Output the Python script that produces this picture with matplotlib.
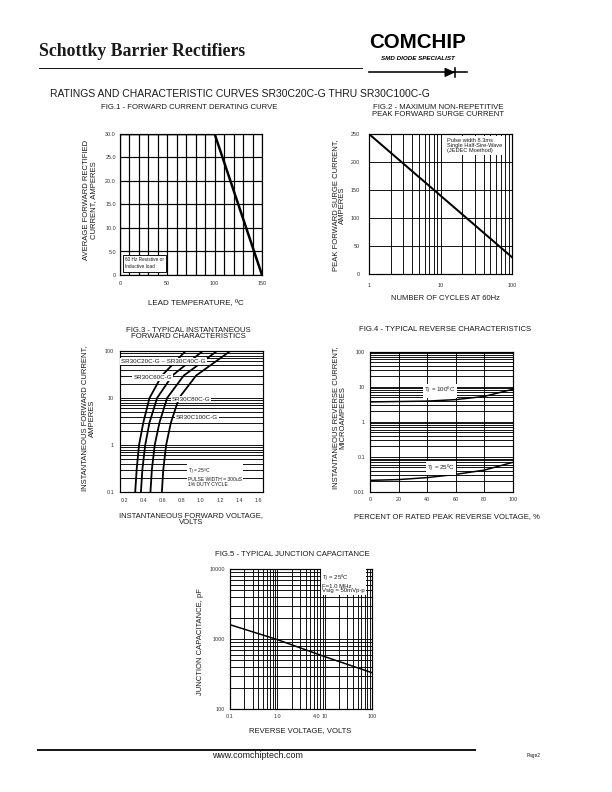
import numpy as np
import matplotlib
matplotlib.use("Agg")
import matplotlib.pyplot as plt
from matplotlib.lines import Line2D
from matplotlib.patches import Polygon
from matplotlib.ticker import FixedLocator, NullFormatter, LogLocator

plt.rcParams['font.family'] = ['Liberation Sans', 'DejaVu Sans']

# ---- data ----
# Fig.1 derating
f1_temp = [0, 100, 150]
f1_amps = [30, 30, 0]

# Fig.2 surge current
f2_cycles = [1, 10, 100]
f2_amps = [250, 140, 30]

# Fig.3 forward characteristics (current points shared by all curves)
f3_current = [0.1, 0.3, 1, 3, 10, 30, 100]
f3_v_20_40 = [0.31, 0.325, 0.35, 0.395, 0.46, 0.59, 0.84]
f3_v_60 = [0.37, 0.385, 0.415, 0.46, 0.54, 0.70, 1.02]
f3_v_80 = [0.47, 0.485, 0.515, 0.565, 0.645, 0.82, 1.17]
f3_v_100 = [0.59, 0.605, 0.635, 0.685, 0.77, 0.95, 1.31]

# Fig.4 reverse characteristics
f4_pct = [0, 20, 40, 60, 80, 100]
f4_ir_100c = [3.7, 3.8, 3.9, 4.3, 5.3, 8.5]
f4_ir_25c = [0.0215, 0.0226, 0.0257, 0.0318, 0.042, 0.07]

# Fig.5 junction capacitance
f5_volts = [0.1, 1, 10, 100]
f5_pf = [1600, 980, 560, 330]

W, H = 612, 792
fig = plt.figure(figsize=(W / 72, H / 72), dpi=72)
INK = '#1a1a1a'
TITLE = 7.8
LABEL = 7.6
TICK = 5.4


def fx(x):
    return x / W


def fy(y):
    return 1 - y / H


def px_axes(x0, y0, x1, y1):
    return fig.add_axes([fx(x0), fy(y1), (x1 - x0) / W, (y1 - y0) / H])


def ftext(x, y, s, **kw):
    kw.setdefault('color', INK)
    fig.text(fx(x), fy(y), s, **kw)


def style(ax, pad=5):
    for sp in ax.spines.values():
        sp.set_linewidth(1.2)
        sp.set_color('black')
    ax.tick_params(which='both', length=0, labelsize=TICK, pad=pad, labelcolor='#333333')
    ax.set_axisbelow(True)


GRID = dict(color='black', linewidth=0.9)

# ---- header ----
ftext(39, 56, "Schottky Barrier Rectifiers", family='Liberation Serif',
      weight='bold', size=17.7, va='baseline')
fig.add_artist(Line2D([fx(39), fx(362)], [fy(67.5)] * 2, lw=1, color=INK))
ftext(417, 48, "COMCHIP", ha='center', va='baseline', size=20.5, weight='bold', color='black')
ftext(417.5, 60, "SMD DIODE SPECIALIST", ha='center', va='baseline', size=6.3,
      weight='bold', style='italic', color='black')
fig.add_artist(Line2D([fx(369), fx(467)], [fy(72.3)] * 2, lw=1.6, color='black'))
fig.add_artist(Polygon([[fx(445), fy(68.3)], [fx(445), fy(76.5)], [fx(454), fy(72.3)]],
                       closed=True, color='black', transform=fig.transFigure))
fig.add_artist(Line2D([fx(454.5)] * 2, [fy(67.5), fy(77)], lw=1.6, color='black'))
ftext(240, 94, "RATINGS AND CHARACTERISTIC CURVES SR30C20C-G THRU SR30C100C-G",
      ha='center', va='center', size=10.4)

# ---- Fig.1 ----
ax1 = px_axes(120, 134, 262, 275)
ax1.plot(f1_temp, f1_amps, color='black', lw=2.5, zorder=3)
ax1.set_xlim(0, 150)
ax1.set_ylim(0, 30)
ax1.set_xticks([0, 50, 100, 150])
ax1.set_xticks(np.arange(0, 151, 10), minor=True)
ax1.set_yticks([0, 5, 10, 15, 20, 25, 30])
ax1.set_yticklabels(['0', '5.0', '10.0', '15.0', '20.0', '25.0', '30.0'])
ax1.grid(which='both', color='black', linewidth=1.2)
style(ax1, pad=4)
ax1.tick_params(axis='x', pad=6)
ax1.text(0.035, 0.04, "60 Hz Resistive or\nInductive load", transform=ax1.transAxes,
         fontsize=4.8, va='bottom', ha='left', color=INK, linespacing=1.5,
         bbox=dict(facecolor='white', edgecolor='black', lw=0.9, boxstyle='square,pad=0.5'))
ftext(189, 107.5, "FIG.1 - FORWARD CURRENT DERATING CURVE", ha='center', va='center', size=TITLE)
ftext(196, 304, "LEAD TEMPERATURE, ºC", ha='center', va='center', size=8)
ftext(90, 200, "AVERAGE FORWARD RECTIFIED\nCURRENT, AMPERES", ha='center', va='center',
      size=LABEL, rotation=90, linespacing=1.0)

# ---- Fig.2 ----
ax2 = px_axes(369, 134, 512, 274)
ax2.plot(f2_cycles, f2_amps, color='black', lw=2, zorder=3)
ax2.set_xscale('log')
ax2.set_xlim(1, 100)
ax2.set_ylim(0, 250)
ax2.set_xticks([1, 10, 100])
ax2.set_xticklabels(['1', '10', '100'])
ax2.xaxis.set_minor_locator(LogLocator(subs=np.arange(2, 10)))
ax2.xaxis.set_minor_formatter(NullFormatter())
ax2.set_yticks([0, 50, 100, 150, 200, 250])
ax2.grid(which='both', **GRID)
style(ax2, pad=9)
ax2.text(0.545, 0.97, "Pulse width 8.3ms\nSingle Half-Sire-Wave\n(JEDEC Moethod)",
         transform=ax2.transAxes, fontsize=5.6, va='top', ha='left', color=INK,
         linespacing=1.0,
         bbox=dict(facecolor='white', edgecolor='none', boxstyle='square,pad=0.35'))
ftext(438, 111, "FIG.2 - MAXIMUM NON-REPETITIVE\nPEAK FORWARD SURGE CURRENT",
      ha='center', va='center', size=TITLE, linespacing=0.9)
ftext(445, 298, "NUMBER OF CYCLES AT 60Hz", ha='center', va='center', size=LABEL)
ftext(339, 205, "PEAK FORWARD SURGE CURRENT,\nAMPERES", ha='center', va='center',
      size=LABEL, rotation=90, linespacing=1.0)

# ---- Fig.3 ----
ax3 = px_axes(120, 351, 262.7, 492)
for v in (f3_v_20_40, f3_v_60, f3_v_80, f3_v_100):
    ax3.plot(v, f3_current, color='black', lw=1.8, zorder=3)
ax3.set_yscale('log')
ax3.set_xlim(0.15, 1.65)
ax3.set_ylim(0.1, 100)
ax3.set_xticks([0.2, 0.4, 0.6, 0.8, 1.0, 1.2, 1.4, 1.6])
ax3.set_xticklabels(['0.2', '0.4', '0.6', '0.8', '1.0', '1.2', '1.4', '1.6'])
ax3.xaxis.set_minor_locator(FixedLocator([0.4, 0.6, 0.8, 1.0, 1.2, 1.4]))
ax3.set_yticks([0.1, 1, 10, 100])
ax3.set_yticklabels(['0.1', '1', '10', '100'])
ax3.yaxis.set_minor_locator(LogLocator(subs=np.arange(2, 10)))
ax3.yaxis.set_minor_formatter(NullFormatter())
ax3.grid(axis='y', which='both', **GRID)
ax3.grid(axis='x', which='minor', **GRID)
style(ax3, pad=6)
lbl = dict(fontsize=6.2, va='center', ha='left', color=INK, zorder=4,
           bbox=dict(facecolor='white', edgecolor='none', boxstyle='square,pad=0.15'))
ax3.text(0.165, 61, "SR30C20C-G ~ SR30C40C-G", **lbl)
ax3.text(0.29, 27.5, "SR30C60C-G", **lbl)
ax3.text(0.695, 9.5, "SR30C80C-G", **lbl)
ax3.text(0.74, 3.8, "SR30C100C-G", **lbl)
ax3.text(0.86, 0.21, "T$_J$ = 25ºC\nPULSE WIDTH = 300uS\n1% DUTY CYCLE", fontsize=5,
         va='center', ha='left', color=INK, linespacing=1.05, zorder=4,
         bbox=dict(facecolor='white', edgecolor='none', boxstyle='square,pad=0.2'))
ftext(188, 333.5, "FIG.3 - TYPICAL INSTANTANEOUS\nFORWARD CHARACTERISTICS",
      ha='center', va='center', size=TITLE, linespacing=0.9)
ftext(191, 519, "INSTANTANEOUS FORWARD VOLTAGE,\nVOLTS", ha='center', va='center',
      size=LABEL, linespacing=1.0)
ftext(88.5, 418, "INSTANTANEOUS FORWARD CURRENT,\nAMPERES", ha='center', va='center',
      size=LABEL, rotation=90, linespacing=1.0)

# ---- Fig.4 ----
ax4 = px_axes(370, 351.7, 512.7, 492)
ax4.plot(f4_pct, f4_ir_100c, color='black', lw=1.5, zorder=3)
ax4.plot(f4_pct, f4_ir_25c, color='black', lw=1.5, zorder=3)
ax4.set_yscale('log')
ax4.set_xlim(0, 100)
ax4.set_ylim(0.01, 100)
ax4.set_xticks([0, 20, 40, 60, 80, 100])
ax4.set_yticks([0.01, 0.1, 1, 10, 100])
ax4.set_yticklabels(['0.01', '0.1', '1', '10', '100'])
ax4.yaxis.set_minor_locator(LogLocator(subs=np.arange(2, 10)))
ax4.yaxis.set_minor_formatter(NullFormatter())
ax4.grid(axis='y', which='both', **GRID)
ax4.grid(axis='x', which='major', **GRID)
style(ax4, pad=5)
lbl4 = dict(fontsize=6.2, va='center', ha='left', color=INK, zorder=4,
            bbox=dict(facecolor='white', edgecolor='none', boxstyle='square,pad=0.2'))
ax4.text(38, 7.7, "T$_J$ = 100ºC", **lbl4)
ax4.text(40, 0.048, "T$_J$ = 25ºC", **lbl4)
ftext(445, 329, "FIG.4 - TYPICAL REVERSE CHARACTERISTICS", ha='center', va='center', size=TITLE)
ftext(447, 517, "PERCENT OF RATED PEAK REVERSE VOLTAGE, %", ha='center', va='center', size=LABEL)
ftext(339, 418, "INSTANTANEOUS REVERSE CURRENT,\nMICROAMPERES", ha='center', va='center',
      size=LABEL, rotation=90, linespacing=1.0)

# ---- Fig.5 ----
ax5 = px_axes(230, 569, 372, 709)
ax5.plot(f5_volts, f5_pf, color='black', lw=1.5, zorder=3)
ax5.set_xscale('log')
ax5.set_yscale('log')
ax5.set_xlim(0.1, 100)
ax5.set_ylim(100, 10000)
ax5.set_xticks([0.1, 1, 10, 100])
ax5.set_xticklabels(['0.1', '1.0', '10', '100'])
ax5.set_yticks([100, 1000, 10000])
ax5.set_yticklabels(['100', '1000', '10000'])
for a in (ax5.xaxis, ax5.yaxis):
    a.set_minor_locator(LogLocator(subs=np.arange(2, 10)))
    a.set_minor_formatter(NullFormatter())
ax5.grid(which='both', **GRID)
style(ax5, pad=5)
ax5.text(6.8, -0.035, "4.0", transform=ax5.get_xaxis_transform(), fontsize=TICK,
         ha='center', va='top', color='#333333')
ax5.text(0.65, 0.975, "T$_J$ = 25ºC\nF=1.0 MHz\nVsig = 50mVp-p", transform=ax5.transAxes,
         fontsize=6, va='top', ha='left', color=INK, linespacing=0.95,
         bbox=dict(facecolor='white', edgecolor='none', boxstyle='square,pad=0.2'))
ftext(292, 555, "FIG.5 - TYPICAL JUNCTION CAPACITANCE", ha='center', va='center', size=TITLE)
ftext(300, 731, "REVERSE VOLTAGE, VOLTS", ha='center', va='center', size=LABEL)
ftext(200, 642, "JUNCTION CAPACITANCE, pF", ha='center', va='center', size=LABEL, rotation=90)

# ---- footer ----
fig.add_artist(Line2D([fx(38), fx(475)], [fy(750.3)] * 2, lw=2, color=INK))
ftext(257.5, 756, "www.comchiptech.com", ha='center', va='center', size=8.9)
ftext(533.5, 755.5, "Page2", ha='center', va='center', size=4.8)

fig.savefig("out.png", dpi=72)
